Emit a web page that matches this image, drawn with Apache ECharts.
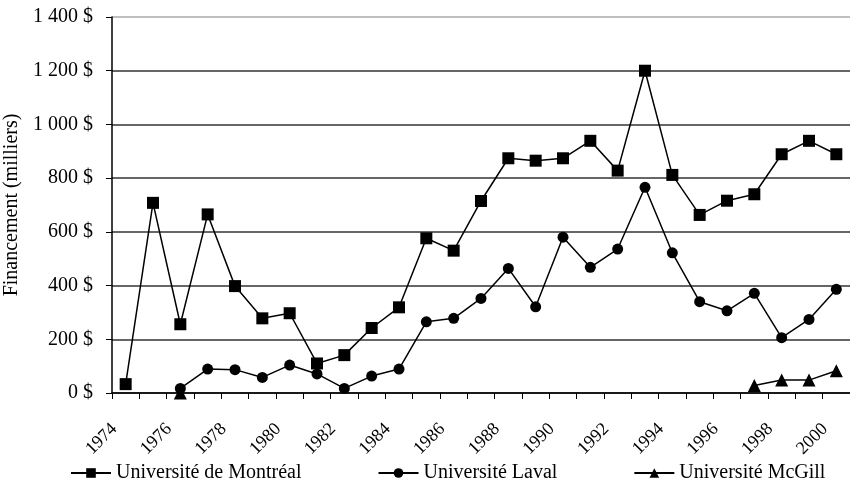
<!DOCTYPE html>
<html>
<head>
<meta charset="utf-8">
<script src="https://cdn.jsdelivr.net/npm/echarts@6/dist/echarts.min.js"></script>
<style>
  html, body { margin: 0; padding: 0; background: #fff; }
  #chart { width: 850px; height: 486px; }
</style>
</head>
<body>
<div id="chart"></div>
<script>
// données (milliers de $)
let annees = [];
for (let a = 1974; a <= 2000; a++) annees.push(String(a));

let montreal = [33, 708, 256, 665, 398, 278, 297, 110, 141, 242, 319, 576, 530, 715, 874, 865, 874, 939, 828, 1200, 812, 663, 716, 740, 889, 939, 889];
let laval = [null, null, 17, 89, 87, 58, 104, 71, 17, 63, 89, 265, 278, 352, 464, 321, 580, 468, 536, 766, 522, 340, 306, 371, 206, 274, 386];
let mcgill = [null, null, 0, null, null, null, null, null, null, null, null, null, null, null, null, null, null, null, null, null, null, null, null, 28, 48, 48, 83];

let yTicks = [0, 200, 400, 600, 800, 1000, 1200, 1400];

let police = "Liberation Serif";

function serie(nom, valeurs, symbole, taille) {
  return {
    name: nom,
    type: "line",
    data: valeurs,
    symbol: symbole,
    symbolSize: taille,
    showAllSymbol: true,
    connectNulls: false,
    lineStyle: { color: "#000", width: 1.5 },
    itemStyle: { color: "#000" },
  };
}

let chart = echarts.init(document.getElementById("chart"));

let option = {
  animation: false,
  backgroundColor: "#fff",
  textStyle: { fontFamily: police, color: "#000" },
  grid: { left: 112, right: 0, top: 17, bottom: 93, outerBoundsMode: "none", containLabel: false },
  legend: {
    bottom: 3,
    left: 70,
    padding: 0,
    itemWidth: 40,
    itemHeight: 12,
    itemGap: 76,
    textStyle: { fontFamily: police, fontSize: 20, color: "#000" },
    data: ["Université de Montréal", "Université Laval", "Université McGill"],
  },
  xAxis: {
    type: "category",
    data: annees,
    boundaryGap: true,
    axisLine: { lineStyle: { color: "#000", width: 1.5 } },
    axisTick: { show: true, length: 6, interval: 0, lineStyle: { color: "#000" } },
    axisLabel: {
      interval: 1,
      rotate: 45,
      margin: 22,
      padding: [0, 16, 0, 0],
      fontFamily: police,
      fontSize: 18,
      color: "#000",
    },
  },
  yAxis: {
    type: "value",
    min: yTicks[0],
    max: yTicks[yTicks.length - 1],
    interval: 200,
    name: "Financement (milliers)",
    nameLocation: "middle",
    nameGap: 82,
    nameTextStyle: { fontFamily: police, fontSize: 20, color: "#000" },
    axisLine: { show: true, lineStyle: { color: "#000", width: 1.5 } },
    axisTick: { show: true, length: 6, lineStyle: { color: "#000" } },
    axisLabel: {
      margin: 19,
      fontFamily: police,
      fontSize: 20,
      color: "#000",
      formatter: function (v) {
        // espace comme séparateur de milliers
        return String(v).replace(/\B(?=(\d{3})+(?!\d))/g, " ") + " $";
      },
    },
    splitLine: {
      show: true,
      lineStyle: {
        color: ["#333", "#333", "#333", "#333", "#333", "#333", "#333", "#aaa"],
        width: 1.5,
      },
    },
  },
  series: [
    serie("Université de Montréal", montreal, "rect", 12),
    serie("Université Laval", laval, "circle", 11),
    serie("Université McGill", mcgill, "triangle", 13),
  ],
};

chart.setOption(option);
</script>
</body>
</html>
